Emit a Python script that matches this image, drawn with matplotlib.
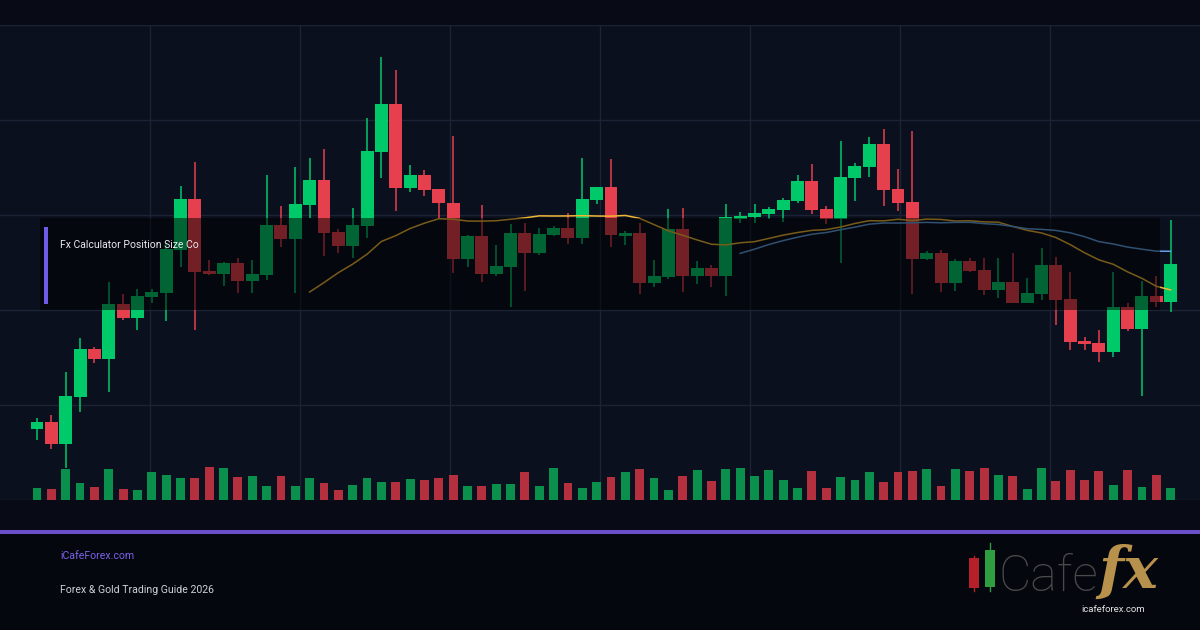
import numpy as np
import pandas as pd
import matplotlib.pyplot as plt
from matplotlib.patches import Rectangle
from matplotlib.lines import Line2D

plt.rcParams['font.family'] = ['Roboto', 'DejaVu Sans']

# price (arbitrary units, grid every 95)
opens = [71, 78.3, 56, 103.3, 151, 141, 196, 182, 203.3, 207,
         250, 301, 229.3, 226, 237.3, 219, 225, 275, 260.7, 295,
         320, 268.3, 254, 274.3, 348.3, 396, 312.3, 325, 311, 297.3,
         241.3, 264, 226.3, 233.3, 267, 246.7, 264.7, 272, 262.3, 300,
         313.3, 264.3, 267.3, 217.3, 223.3, 271, 224, 231.7, 224, 281.3,
         283.3, 286, 290, 299, 319, 291, 281, 322.3, 333.3, 356,
         311, 297.7, 240.7, 246.7, 217.3, 239, 230, 210, 217.7, 197.3,
         206, 235, 201, 159.3, 157.3, 148.3, 192.7, 171, 204, 198.3]
highs = [82, 85, 128, 162, 153, 218, 206, 211, 210.7, 257,
         314, 337.7, 240, 238.3, 241.7, 240, 325, 294, 333.3, 342.3,
         351, 271, 291.7, 381.7, 442.7, 430, 335, 330, 311, 364,
         265, 295, 255, 276, 277.3, 272, 274, 287.3, 341.7, 313.3,
         341, 269.3, 277.3, 240, 290.7, 291.7, 239, 235, 296, 288.3,
         296, 292.7, 301.7, 325, 336, 294, 359, 336.7, 363.3, 371,
         331, 369, 249, 250, 240.7, 241.7, 241.7, 241.7, 246.7, 221.7,
         251.7, 243.3, 227.7, 162.7, 170, 227.7, 197.3, 219, 224, 280]
lows = [60, 51, 32, 88, 137, 108, 180, 170, 197.3, 179.3,
        233, 170, 225, 214, 206.7, 206.7, 220, 253.3, 206.7, 281.7,
        244, 246.7, 241.7, 261.7, 321.7, 289.3, 308.3, 304.3, 281, 226.7,
        233.3, 218.3, 224.3, 192.7, 209.3, 245, 264, 255.7, 256, 296,
        253.3, 255, 206, 213.3, 221, 208.3, 216, 212.7, 204.3, 276.7,
        276.7, 281, 278.3, 296.7, 286, 276, 237.3, 299.3, 323.3, 294.3,
        289.3, 206, 240, 208.3, 209.3, 228.3, 205, 202.3, 196.7, 196.7,
        200, 175, 150, 150, 138.3, 143.3, 169, 104.3, 192.7, 188.3]
closes = [78.3, 56, 104, 151, 141, 196, 182, 204, 207.7, 250.7,
          301, 228.3, 226, 237.3, 219, 226, 275, 260.7, 296, 320,
          267.3, 254, 275, 349, 396, 312.3, 325, 310, 296.7, 241.3,
          264.3, 226.3, 234, 267, 246.7, 266, 272, 262.3, 301, 313.3,
          265, 267.3, 217.3, 224, 271, 224, 231.7, 224, 282.7, 284,
          287.3, 291, 300, 319, 290, 281, 323.3, 334, 356, 310,
          297.3, 240.7, 246.7, 217.3, 239, 229, 210, 217.7, 197.3, 206.7,
          235, 200, 157.7, 156, 148.3, 192.7, 171, 204, 198.3, 236]
volumes = [117, 107, 307, 167, 127, 307, 107, 97, 277, 247,
           217, 217, 327, 317, 227, 237, 137, 237, 137, 217,
           167, 97, 147, 217, 177, 177, 207, 197, 217, 247,
           137, 137, 157, 157, 277, 137, 317, 167, 117, 177,
           227, 277, 307, 217, 97, 237, 297, 187, 307, 317,
           237, 297, 197, 117, 287, 117, 227, 197, 277, 177,
           277, 287, 307, 137, 307, 287, 317, 247, 237, 107,
           317, 187, 297, 197, 287, 147, 297, 127, 247, 117]

df = pd.DataFrame({'open': opens, 'high': highs, 'low': lows,
                   'close': closes, 'volume': volumes})
df['ma20'] = df['close'].rolling(20).mean()
df['ma50'] = df['close'].rolling(50).mean()

W, H = 1200, 630
UP, DOWN = '#00c96a', '#e6404e'
VUP, VDOWN = '#0a8f4d', '#b4303f'

fig = plt.figure(figsize=(12, 6.3), dpi=100, facecolor='#080b15')
ax = fig.add_axes([0, 130 / H, 1, 475 / H], facecolor='#0b101e')

step, first = 14.35, 37
ax.set_xlim(-first / step, (W - first) / step)
ax.set_ylim(0, 475)
ax.set_xticks((np.arange(150, W, 150) - first) / step)
ax.set_yticks(np.arange(0, 476, 95))
ax.grid(True, color='#1d2336', lw=1)
ax.tick_params(length=0, labelbottom=False, labelleft=False)
for s in ax.spines.values():
    s.set_visible(False)

idx = np.arange(len(df))
up = df['close'] >= df['open']
colors = np.where(up, UP, DOWN)
body_bot = np.minimum(df['open'], df['close'])
body_h = np.maximum((df['close'] - df['open']).abs(), 1.5)

ax.vlines(idx, df['low'], df['high'], colors=colors, lw=1.1, zorder=3)
ax.bar(idx, body_h, bottom=body_bot, width=0.9, color=colors, lw=0, zorder=4)
ax.plot(idx, df['ma20'], color='#f0b834', lw=1.1, zorder=5)
ax.plot(idx, df['ma50'], color='#62a2e4', lw=1.1, zorder=5)

axv = ax.twinx()
axv.set_ylim(0, 4750)
axv.bar(idx, df['volume'], width=0.62, color=np.where(up, VUP, VDOWN), lw=0)
axv.set_axis_off()

# dark label box over the chart
fig.add_artist(Rectangle((40 / W, 1 - 310 / H), 1120 / W, 92 / H, transform=fig.transFigure,
                         facecolor='#000000', alpha=0.5, lw=0, zorder=5))
fig.add_artist(Rectangle((44 / W, 1 - 304 / H), 4 / W, 77 / H, transform=fig.transFigure,
                         facecolor='#6c5ce7', lw=0, zorder=6))
fig.text(60 / W, 1 - 245 / H, 'Fx Calculator Position Size Co', color='#e8eaf0',
         fontsize=7.5, va='center', zorder=7)

# footer
fig.add_artist(Rectangle((0, 0), 1, 96 / H, transform=fig.transFigure,
                         facecolor='#05070e', lw=0, zorder=1))
fig.add_artist(Rectangle((0, 1 - 534 / H), 1, 4 / H, transform=fig.transFigure,
                         facecolor='#6a4fc9', lw=0, zorder=2))
fig.text(60 / W, 1 - 556 / H, 'iCafeForex.com', color='#7b61e8', fontsize=7.6, va='center')
fig.text(60 / W, 1 - 590 / H, 'Forex & Gold Trading Guide 2026', color='#cdd1d8',
         fontsize=7.6, va='center')

# logo
for x0, y0, y1, w0, w1, c in [(969, 558, 588, 556, 591, '#b5202a'),
                              (985, 550, 587, 543, 591, '#2e9e40')]:
    fig.add_artist(Line2D([(x0 + 5) / W] * 2, [1 - w0 / H, 1 - w1 / H], color=c, lw=1,
                          transform=fig.transFigure, zorder=3))
    fig.add_artist(Rectangle((x0 / W, 1 - y1 / H), 10 / W, (y1 - y0) / H, transform=fig.transFigure,
                             facecolor=c, lw=0, zorder=4))
fig.text(998 / W, 1 - 591 / H, 'Cafe', color='#4a4a4a', fontsize=36, fontweight='light',
         va='baseline')
fig.text(1098 / W, 1 - 588 / H, 'fx', color='#b8924c', fontsize=42, family='DejaVu Serif',
         style='italic', fontweight='bold', va='baseline')
fig.text(1113 / W, 1 - 610 / H, 'icafeforex.com', color='#e6e6e6', fontsize=6.8,
         ha='center', va='center')

fig.savefig('out.png', dpi=100, facecolor=fig.get_facecolor())
